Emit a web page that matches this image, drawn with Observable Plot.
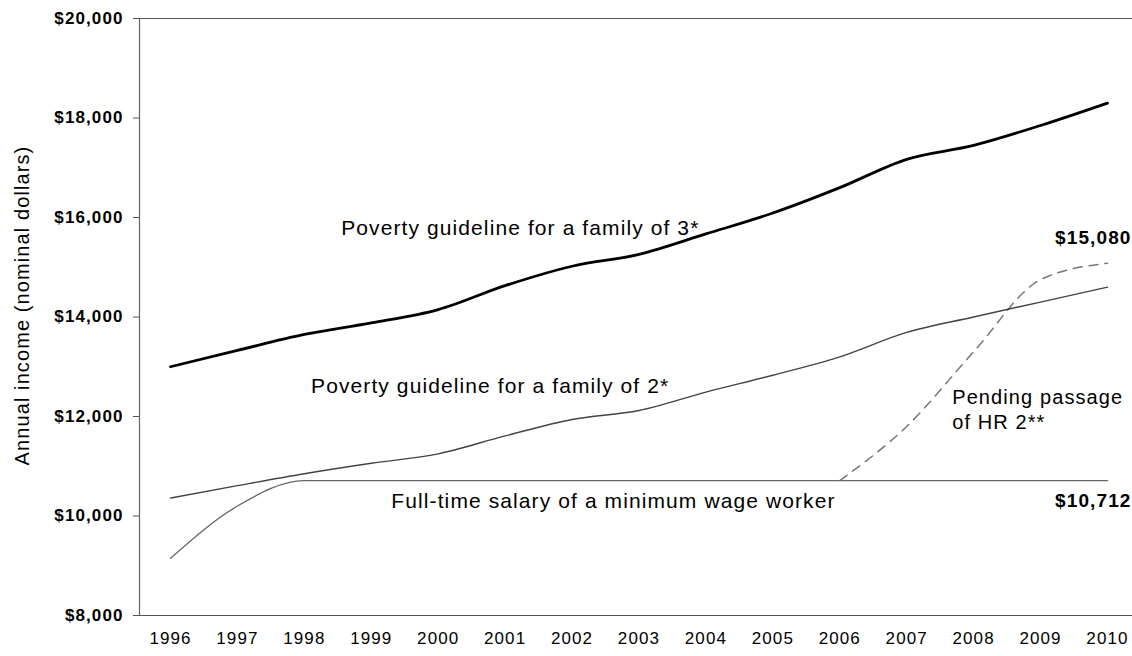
<!DOCTYPE html>
<html>
<head>
<meta charset="utf-8">
<script src="https://cdn.jsdelivr.net/npm/d3@7"></script>
<script src="https://cdn.jsdelivr.net/npm/@observablehq/plot@0.6"></script>
<style>
  html, body { margin: 0; padding: 0; background: #fff; }
  #chart { width: 1132px; height: 656px; }
</style>
</head>
<body>
<div id="chart"></div>
<script>
// ---- data ----
const years = [1996, 1997, 1998, 1999, 2000, 2001, 2002, 2003, 2004, 2005, 2006, 2007, 2008, 2009, 2010];
const family3 = [13000, 13330, 13650, 13880, 14150, 14630, 15020, 15260, 15670, 16090, 16600, 17170, 17450, 17850, 18300];
const family2 = [10360, 10610, 10850, 11060, 11250, 11610, 11940, 12120, 12490, 12830, 13200, 13690, 14000, 14300, 14600];
const minWage = [9150, 10200, 10712, 10712, 10712, 10712, 10712, 10712, 10712, 10712, 10712, 10712, 10712, 10712, 10712];
const hr2Years = [2006, 2007, 2008, 2009, 2010];
const hr2Values = [10712, 11800, 13300, 14750, 15080];
const yTicks = [8000, 10000, 12000, 14000, 16000, 18000, 20000];
const yTitle = "Annual income (nominal dollars)";
const labels = [
  {x: 1998.55, y: 15780, text: "Poverty guideline for a family of 3*", size: 21},
  {x: 1998.1, y: 12600, text: "Poverty guideline for a family of 2*", size: 21},
  {x: 1999.3, y: 10300, text: "Full-time salary of a minimum wage worker", size: 21},
  {x: 2007.68, y: 12380, text: "Pending passage", size: 20},
  {x: 2007.68, y: 11880, text: "of HR 2**", size: 20}
];
const valueLabels = [
  {y: 10300, text: "$10,712"},
  {y: 15580, text: "$15,080"}
];

const xMin = 1995.537, xMax = 2010.374;
const rows = (vals) => years.map((y, i) => ({year: y, value: vals[i]}));
const hr2 = hr2Years.map((y, i) => ({year: y, value: hr2Values[i]}));
const font = "Liberation Sans, Arial, Helvetica, sans-serif";

const chart = Plot.plot({
  width: 1132,
  height: 656,
  marginLeft: 139,
  marginRight: 0,
  marginTop: 18,
  marginBottom: 41,
  style: {fontFamily: font, fontSize: "17px", color: "#000", background: "#fff", letterSpacing: "1.1px"},
  x: {domain: [xMin, xMax], label: null},
  y: {domain: [8000, 20000], label: null},
  marks: [
    Plot.axisX({ticks: years, tickFormat: d => String(d), tickSize: 0, tickPadding: 16, fontSize: 17, label: null}),
    Plot.axisY({ticks: yTicks, tickFormat: d => "$" + d3.format(",")(d), tickSize: 6, tickPadding: 10, fontSize: 17, fontWeight: "bold", label: null, stroke: "#555"}),
    Plot.ruleX([xMin], {stroke: "#666", strokeWidth: 1.2}),
    Plot.ruleY([8000, 20000], {stroke: "#555", strokeWidth: 1.2}),
    Plot.line(rows(minWage), {x: "year", y: "value", stroke: "#666", strokeWidth: 1.3, curve: "monotone-x"}),
    Plot.line(hr2, {x: "year", y: "value", stroke: "#777", strokeWidth: 1.5, strokeDasharray: "9,7", curve: "monotone-x"}),
    Plot.line(rows(family2), {x: "year", y: "value", stroke: "#444", strokeWidth: 1.4, curve: "monotone-x"}),
    Plot.line(rows(family3), {x: "year", y: "value", stroke: "#000", strokeWidth: 2.8, curve: "monotone-x"}),
    Plot.text(labels, {x: "x", y: "y", text: "text", textAnchor: "start", fontSize: "size", fill: "#000"}),
    Plot.text(valueLabels, {x: xMax, y: "y", text: "text", textAnchor: "end", dx: -1, fontSize: 19, fontWeight: "bold", fill: "#000"}),
    Plot.text([yTitle], {x: xMin, y: 14230, text: d => d, rotate: -90, dx: -117, fontSize: 20, fill: "#000"})
  ]
});
document.getElementById("chart").appendChild(chart);
</script>
</body>
</html>
